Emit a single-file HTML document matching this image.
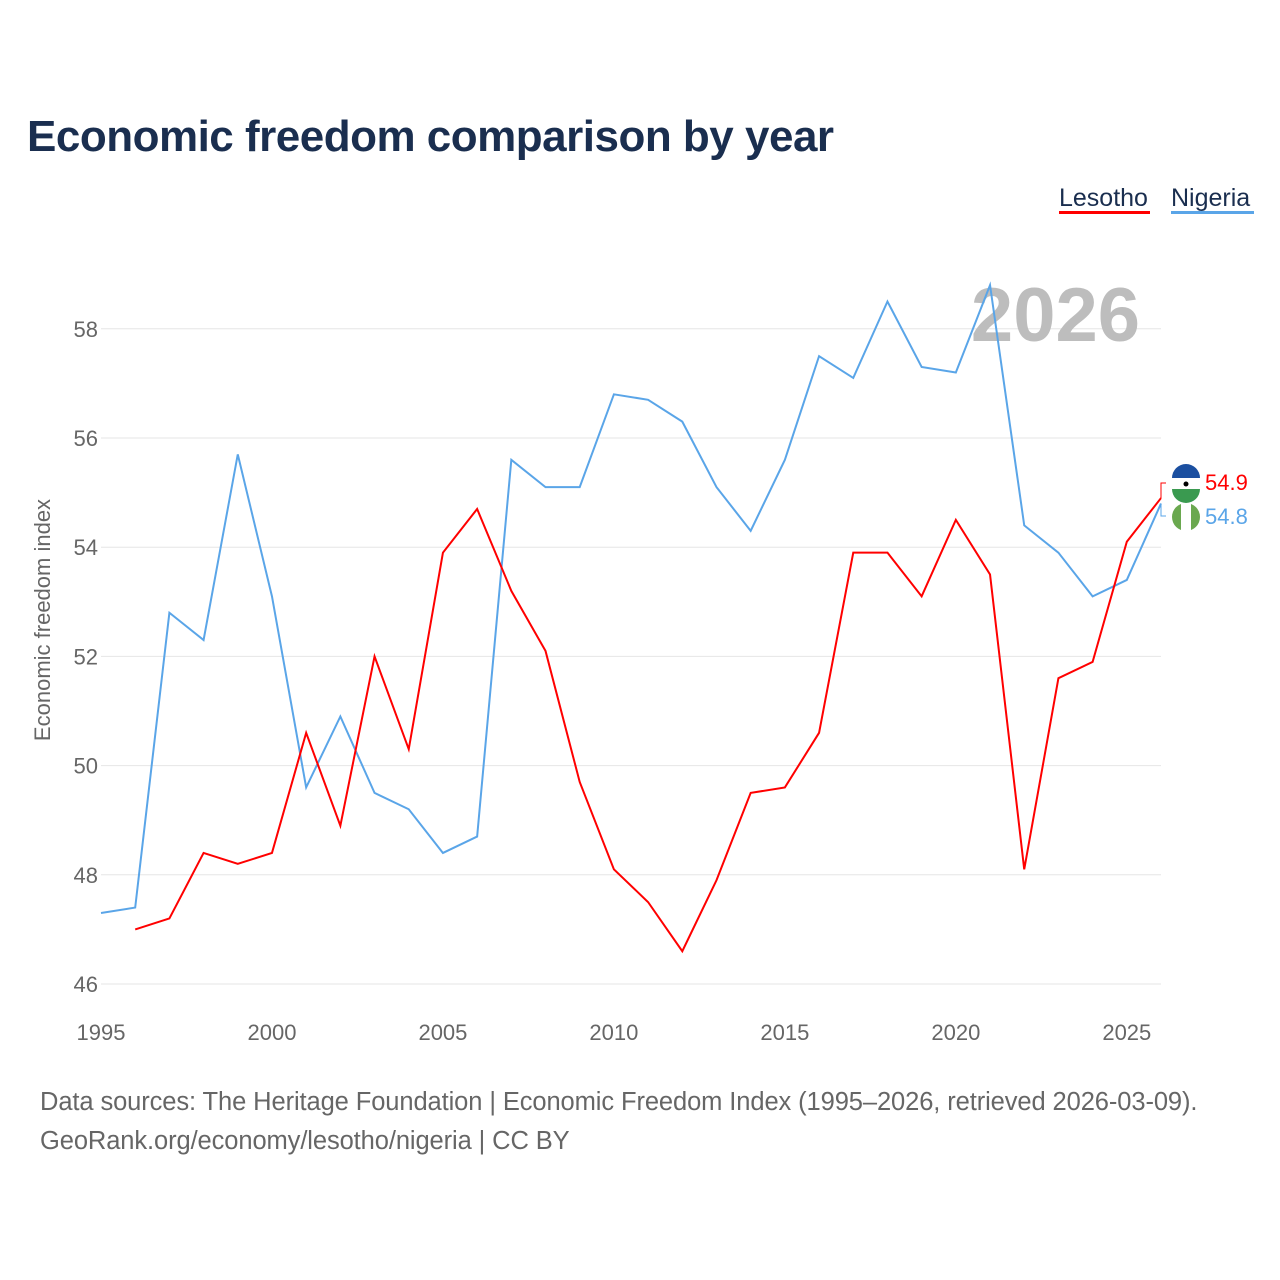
<!DOCTYPE html>
<html><head><meta charset="utf-8"><style>
html,body{margin:0;padding:0;background:#fff;}
body{width:1280px;height:1280px;position:relative;font-family:"Liberation Sans",sans-serif;overflow:hidden;}
</style></head><body>
<div style="position:absolute;left:27px;top:112px;font-size:44px;font-weight:bold;color:#1a2e4f;letter-spacing:-0.5px">Economic freedom comparison by year</div>
<svg id="chart" width="1280" height="1280" style="position:absolute;left:0;top:0"></svg>
<div style="position:absolute;left:40px;top:1083px;font-size:25.5px;color:#666;line-height:39px;letter-spacing:-0.1px">Data sources: The Heritage Foundation | Economic Freedom Index (1995–2026, retrieved 2026-03-09).<br>GeoRank.org/economy/lesotho/nigeria | CC BY</div>
<script>
const years=[1995,1996,1997,1998,1999,2000,2001,2002,2003,2004,2005,2006,2007,2008,2009,2010,2011,2012,2013,2014,2015,2016,2017,2018,2019,2020,2021,2022,2023,2024,2025,2026];
const nigeria=[47.3,47.4,52.8,52.3,55.7,53.1,49.6,50.9,49.5,49.2,48.4,48.7,55.6,55.1,55.1,56.8,56.7,56.3,55.1,54.3,55.6,57.5,57.1,58.5,57.3,57.2,58.8,54.4,53.9,53.1,53.4,54.8];
const lesotho=[null,47.0,47.2,48.4,48.2,48.4,50.6,48.9,52.0,50.3,53.9,54.7,53.2,52.1,49.7,48.1,47.5,46.6,47.9,49.5,49.6,50.6,53.9,53.9,53.1,54.5,53.5,48.1,51.6,51.9,54.1,54.9];
const yTicks=[46,48,50,52,54,56,58];
const xTicks=[1995,2000,2005,2010,2015,2020,2025];
const NS="http://www.w3.org/2000/svg";
const svg=document.getElementById('chart');
const X=y=>101+(y-1995)*(1161-101)/31;
const Y=v=>984-(v-46)*54.6;
function mk(t,a,p){const e=document.createElementNS(NS,t);for(const k in a)e.setAttribute(k,a[k]);(p||svg).appendChild(e);return e;}
yTicks.forEach(v=>{
 const l=mk('line',{x1:101,x2:1161,y1:Y(v),y2:Y(v),stroke:'#e6e6e6','stroke-width':1});
 
 
 const t=mk('text',{x:98,y:Y(v)+8,'text-anchor':'end','font-size':22,fill:'#666'});t.textContent=v;
 
 
});
xTicks.forEach(v=>{
 const t=mk('text',{x:X(v),y:1040,'text-anchor':'middle','font-size':22,fill:'#666'});t.textContent=v;
 
 
});
const yt=mk('text',{x:0,y:0,transform:'translate(50,620) rotate(-90)','text-anchor':'middle','font-size':22,fill:'#666'});yt.textContent='Economic freedom index';


const yr=mk('text',{x:1140,y:341,'text-anchor':'end','font-size':76,'font-weight':'bold',fill:'#bdbdbd'});yr.textContent='2026';


function line(data,color,name){
 let d='';data.forEach((v,i)=>{if(v==null)return;d+=(d?'L':'M')+X(years[i])+','+Y(v);});
 const p=mk('path',{d:d,fill:'none',stroke:color,'stroke-width':2});
 
 
}
line(nigeria,'#5aa5e8','nigeria-line');
line(lesotho,'#ff0000','lesotho-line');
const lv=lesotho[lesotho.length-1],nv=nigeria[nigeria.length-1];
mk('path',{d:`M${X(2026)},${Y(lv)}V483H1166`,stroke:'#ff0000',fill:'none'});
mk('path',{d:`M${X(2026)},${Y(nv)}V516H1166`,stroke:'#5aa5e8',fill:'none'});
const f1=mk('g',{});
mk('circle',{cx:1186,cy:483,r:14,fill:'#fff'},f1);
mk('path',{d:'M1172,478A14,14 0 0 1 1200,478Z',fill:'#1b4fa0'},f1);
mk('path',{d:'M1172,489A14,14 0 0 0 1200,489Z',fill:'#3a9a50'},f1);
mk('circle',{cx:1186,cy:484,r:2.5,fill:'#000'},f1);
const f2=mk('g',{});
mk('circle',{cx:1186,cy:517,r:14,fill:'#6aa84f'},f2);
mk('rect',{x:1181,y:503,width:10,height:28,fill:'#fff'},f2);
const t1=mk('text',{x:1205,y:490,'font-size':22,fill:'#ff0000'});t1.textContent=lv.toFixed(1);

const t2=mk('text',{x:1205,y:524,'font-size':22,fill:'#5aa5e8'});t2.textContent=nv.toFixed(1);

const l1=mk('text',{x:1059,y:206,'font-size':25,fill:'#1a2e4f'});l1.textContent='Lesotho';

mk('rect',{x:1059,y:211,width:91,height:3,fill:'#ff0000'});
const l2=mk('text',{x:1171,y:206,'font-size':25,fill:'#1a2e4f'});l2.textContent='Nigeria';

mk('rect',{x:1171,y:211,width:83,height:3,fill:'#5aa5e8'});
</script>
</body></html>
